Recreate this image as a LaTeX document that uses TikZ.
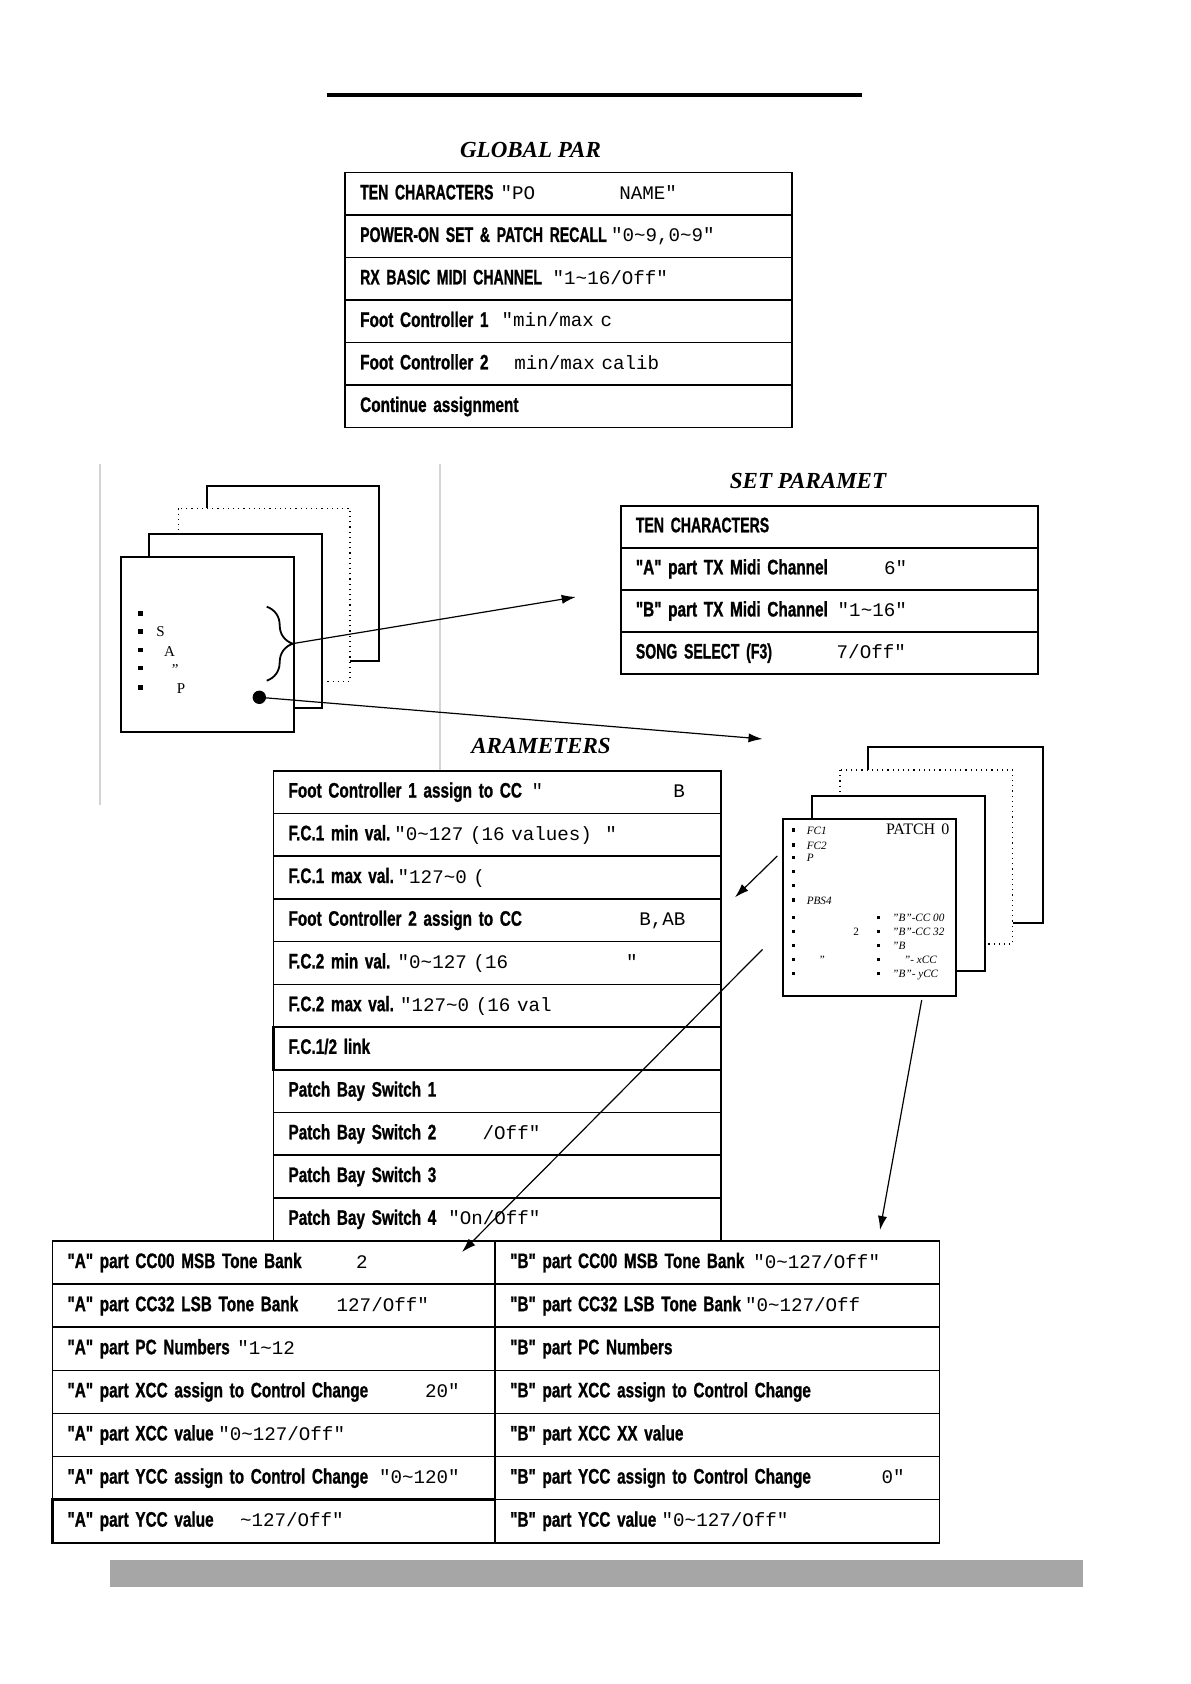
\documentclass[tikz,border=0pt]{standalone}
\usepackage{fontspec}
\setmainfont{Liberation Serif}
\newfontfamily\lblfont[FakeStretch=0.73,FakeBold=1.0,WordSpace=0.6]{Liberation Sans}
\newfontfamily\capfont[FakeStretch=0.67,FakeBold=1.0,WordSpace=0.6]{Liberation Sans}
\newfontfamily\valfont{Liberation Mono}
\usetikzlibrary{positioning,arrows.meta,decorations.pathreplacing}

\newcommand\lbl[1]{{\lblfont\bfseries\fontsize{10.5}{12}\selectfont #1}}
\newcommand\lblc[1]{{\capfont\bfseries\fontsize{10.5}{12}\selectfont #1}}
\newcommand\val[1]{{\valfont\fontsize{9.6}{11}\selectfont #1}}
\newcommand\tld{\char"7E\relax}
\newcommand\rowtxt[3]{\makebox[#1][l]{\lbl{#2}}\val{#3}}
\newcommand\rowcap[3]{\makebox[#1][l]{\lblc{#2}}\val{#3}}

\definecolor{barGrey}{RGB}{166,166,166}
\definecolor{guideGrey}{RGB}{212,212,212}

\tikzset{every picture/.style={line width=0.75pt}}
\tikzset{
  tabrow/.style={draw, line width=0.8pt, anchor=north west, outer sep=0pt,
    inner xsep=7.6pt, inner ysep=0pt, text height=8pt, text depth=2.5pt, align=left},
  globRow/.style={tabrow, text width=208.15pt, minimum height=21.25pt},
  setRow/.style={tabrow, text width=193.3pt, minimum height=21.05pt},
  parRow/.style={tabrow, text width=208.5pt, minimum height=21.36pt},
  aRow/.style={tabrow, text width=206.15pt, minimum height=21.55pt},
  bRow/.style={tabrow, text width=206.95pt, minimum height=21.55pt},
  linkRow/.style={line width=1.2pt},
  ttl/.style={inner sep=0pt, font=\fontsize{11.5}{13}\selectfont\bfseries\itshape},
  card/.style={draw, fill=white, line width=1pt},
  cardDot/.style={draw, fill=white, line width=0.6pt, dotted},
  ctext/.style={inner sep=0pt, anchor=base west, font=\fontsize{7.5}{9}\selectfont},
  ptext/.style={inner sep=0pt, anchor=base west, font=\fontsize{5.6}{7}\selectfont\itshape},
  arr/.style={-{Latex[length=7pt,width=4.6pt]}, line width=0.6pt},
  brc/.style={line width=0.9pt, decorate, decoration={brace, amplitude=13pt}},
}

\begin{document}
\begin{tikzpicture}[x=0.5pt,y=0.5pt,yscale=-1,xscale=1]
\useasboundingbox (0,0) rectangle (1190,1684);

%Straight Lines: top rule
\draw [line width=2.3pt] (327,95) -- (862,95) ;
%Straight Lines: guides
\draw [guideGrey, line width=0.6pt] (100,464) -- (100,805) ;
\draw [guideGrey, line width=0.6pt] (440,464) -- (440,770) ;

% Text Node
\node [ttl] (tGlobal) at (530.5,150) {GLOBAL PAR};
\node [ttl] (tSet) at (808,481) {SET PARAMET};
\node [ttl] (tPar) at (541,746) {ARAMETERS};

%Global table
\node [globRow] (g1) at (345,172.7) {\rowcap{70.25pt}{TEN CHARACTERS}{\makebox[59.3pt][l]{"PO}NAME"}};
\node [globRow, below=0pt of g1] (g2) {\rowcap{125.4pt}{POWER-ON SET \& PATCH RECALL}{"0\tld9,0\tld9"}};
\node [globRow, below=0pt of g2] (g3) {\rowcap{96.25pt}{RX BASIC MIDI CHANNEL}{"1\tld16/Off"}};
\node [globRow, below=0pt of g3] (g4) {\rowtxt{70.75pt}{Foot Controller 1}{"min/max c}};
\node [globRow, below=0pt of g4] (g5) {\rowtxt{77.05pt}{Foot Controller 2}{min/max calib}};
\node [globRow, below=0pt of g5] (g6) {\lbl{Continue assignment}};

%Set table
\node [setRow] (s1) at (620.7,505.7) {\lblc{TEN CHARACTERS}};
\node [setRow, below=0pt of s1] (s2) {\rowtxt{124.05pt}{"A" part TX Midi Channel}{6"}};
\node [setRow, below=0pt of s2] (s3) {\rowtxt{100.9pt}{"B" part TX Midi Channel}{"1\tld16"}};
\node [setRow, below=0pt of s3] (s4) {\rowcap{100.4pt}{SONG SELECT (F3)}{7/Off"}};

%Parameters table
\node [parRow] (p1) at (273.3,770.7) {\rowtxt{121.6pt}{Foot Controller 1 assign to CC}{\makebox[70.8pt][l]{"}B}};
\node [parRow, below=0pt of p1] (p2) {\rowtxt{52.9pt}{F.C.1 min val.}{"0\tld127 (16 values)\ \ "}};
\node [parRow, below=0pt of p2] (p3) {\rowtxt{54.6pt}{F.C.1 max val.}{"127\tld0 (}};
\node [parRow, below=0pt of p3] (p4) {\rowtxt{175.4pt}{Foot Controller 2 assign to CC}{B,AB}};
\node [parRow, below=0pt of p4] (p5) {\rowtxt{54.6pt}{F.C.2 min val.}{\makebox[114.15pt][l]{"0\tld127 (16}"}};
\node [parRow, below=0pt of p5] (p6) {\rowtxt{55.75pt}{F.C.2 max val.}{"127\tld0 (16 val}};
\node [parRow, linkRow, below=0pt of p6] (p7) {\lbl{F.C.1/2 link}};
\node [parRow, below=0pt of p7] (p8) {\lbl{Patch Bay Switch 1}};
\node [parRow, below=0pt of p8] (p9) {\rowtxt{97.1pt}{Patch Bay Switch 2}{/Off"}};
\node [parRow, below=0pt of p9] (p10) {\lbl{Patch Bay Switch 3}};
\node [parRow, below=0pt of p10] (p11) {\rowtxt{79.9pt}{Patch Bay Switch 4}{"On/Off"}};

%"A" part table
\node [aRow] (a1) at (52.3,1241) {\rowtxt{144.25pt}{"A" part CC00 MSB Tone Bank}{2}};
\node [aRow, below=0pt of a1] (a2) {\rowtxt{134.6pt}{"A" part CC32 LSB Tone Bank}{127/Off"}};
\node [aRow, below=0pt of a2] (a3) {\rowtxt{84.9pt}{"A" part PC Numbers}{"1\tld12}};
\node [aRow, below=0pt of a3] (a4) {\rowtxt{178.75pt}{"A" part XCC assign to Control Change}{20"}};
\node [aRow, below=0pt of a4] (a5) {\rowtxt{75.4pt}{"A" part XCC value}{"0\tld127/Off"}};
\node [aRow, below=0pt of a5] (a6) {\rowtxt{155.75pt}{"A" part YCC assign to Control Change}{"0\tld120"}};
\node [aRow, linkRow, below=0pt of a6] (a7) {\rowtxt{86.25pt}{"A" part YCC value}{\tld127/Off"}};

%"B" part table
\node [bRow] (b1) at (495,1241) {\rowtxt{121.55pt}{"B" part CC00 MSB Tone Bank}{"0\tld127/Off"}};
\node [bRow, below=0pt of b1] (b2) {\rowtxt{117.4pt}{"B" part CC32 LSB Tone Bank}{"0\tld127/Off}};
\node [bRow, below=0pt of b2] (b3) {\lbl{"B" part PC Numbers}};
\node [bRow, below=0pt of b3] (b4) {\lbl{"B" part XCC assign to Control Change}};
\node [bRow, below=0pt of b4] (b5) {\lbl{"B" part XCC XX value}};
\node [bRow, below=0pt of b5] (b6) {\rowtxt{185.75pt}{"B" part YCC assign to Control Change}{0"}};
\node [bRow, below=0pt of b6] (b7) {\rowtxt{75.75pt}{"B" part YCC value}{"0\tld127/Off"}};

%Shape: left card stack
\draw [card] (206.7,485.7) rectangle (379.3,660.7) ;
\draw [cardDot] (178.3,508.3) rectangle (350,681.7) ;
\draw [card] (149.3,534) rectangle (322.3,708.3) ;
\draw [card] (121,557.3) rectangle (294.3,732.3) ;
\foreach \y in {613.3,631.3,650,668,687.3}
  \fill (138.4,{\y-2.3}) rectangle (143,{\y+2.3}) ;
% Text Node
\node [ctext] (cS) at (155.7,636.7) {S};
\node [ctext] (cA) at (163.3,656.7) {A};
\node [ctext] (cQ) at (171,674) {"};
\node [ctext] (cP) at (176,693.3) {P};
\draw [brc] (266.7,606.7) -- (266.7,680.7) ;
\coordinate (braceTip) at (293.3,643.5);
\node [circle, fill=black, inner sep=0pt, minimum size=6.7pt] (dot) at (259.3,697.3) {};

%Shape: patch card stack
\draw [card] (868.3,747.3) rectangle (1042.7,922.7) ;
\draw [cardDot] (840,770) rectangle (1012.7,944) ;
\draw [card] (811.7,796) rectangle (985,970.7) ;
\draw [card] (783.3,819.3) rectangle (956,995.7) ;
\foreach \y in {830,845,857.7,871.7,885.7,900,917.3,931.7,945.7,959.3,973.3}
  \fill (791.6,{\y-1.7}) rectangle (795,{\y+1.7}) ;
\foreach \y in {917.3,931.7,945.7,959.3,973.3}
  \fill (876.6,{\y-1.7}) rectangle (880,{\y+1.7}) ;
% Text Node
\node [inner sep=0pt, anchor=base east, font=\fontsize{8}{9}\selectfont] (patchName) at (950,834) {PATCH\hspace{3pt}0};
\node [ptext] (pFC1) at (806,834) {FC1};
\node [ptext] (pFC2) at (806,849) {FC2};
\node [ptext] (pP) at (806,861.7) {P};
\node [ptext] (pPBS) at (806,904) {PBS4};
\node [ptext, font=\fontsize{5.6}{7}\selectfont] (pTwo) at (852.5,935.7) {2};
\node [ptext, font=\fontsize{5.6}{7}\selectfont] (pQ) at (819,963.3) {"};
\node [ptext] (pB1) at (891.7,921.3) {"B"-CC 00};
\node [ptext] (pB2) at (891.7,935.7) {"B"-CC 32};
\node [ptext] (pB3) at (891.7,949.7) {"B};
\node [ptext] (pB4) at (903.3,963.3) {"- xCC};
\node [ptext] (pB5) at (891.7,977.3) {"B"- yCC};

%Straight Lines: connectors
\coordinate (setTip) at (575.7,597);
\coordinate (parTip) at (762.5,739);
\coordinate (patchL) at (777.3,856);
\coordinate (patchLTip) at (735,897.3);
\coordinate (patchD) at (762.5,949.4);
\coordinate (patchDTip) at (462,1252);
\coordinate (patchB) at (921.7,1000);
\coordinate (patchBTip) at (880,1230);
\draw [arr] (braceTip) -- (setTip) ;
\draw [arr] (dot.center) -- (parTip) ;
\draw [arr] (patchL) -- (patchLTip) ;
\draw [arr] (patchD) -- (patchDTip) ;
\draw [arr] (patchB) -- (patchBTip) ;

%Shape: bottom bar
\fill [barGrey] (109.5,1560) rectangle (1083,1586.5) ;

\end{tikzpicture}
\end{document}
